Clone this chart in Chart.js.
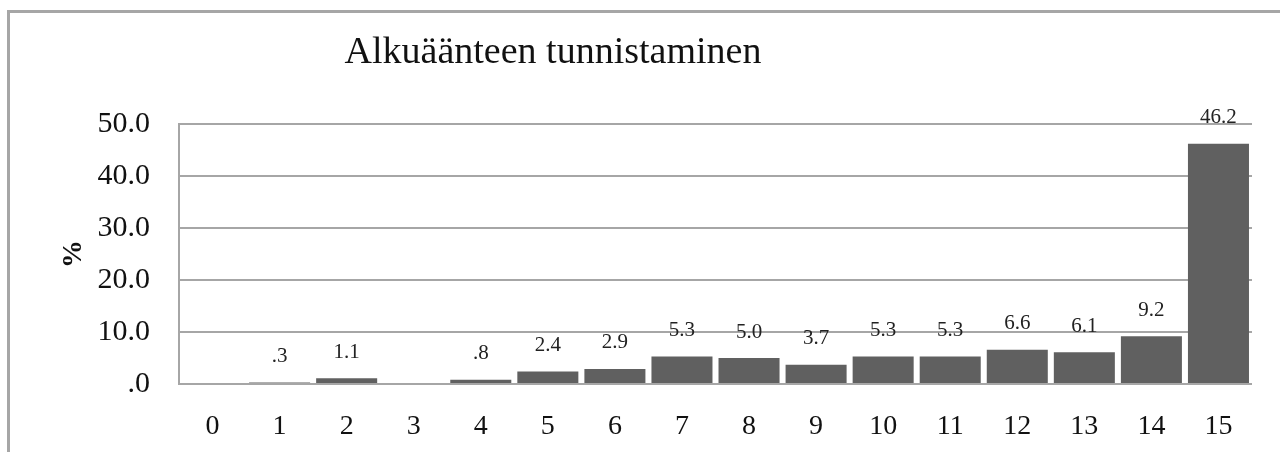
<!DOCTYPE html>
<html>
<head>
<meta charset="utf-8">
<script src="https://cdn.jsdelivr.net/npm/chart.js@4"></script>
<style>
  html, body { margin: 0; padding: 0; background: #fff; }
  #wrap { position: relative; width: 1280px; height: 452px; overflow: hidden; }
  #frame {
    position: absolute; left: 7px; top: 10px; width: 1300px; height: 500px;
    border-top: 3px solid #a6a6a6; border-left: 3px solid #a6a6a6;
  }
  canvas { position: absolute; left: 0; top: 0; }
</style>
</head>
<body>
<div id="wrap">
  <div id="frame"></div>
  <canvas id="barChart" width="1280" height="452"></canvas>
</div>
<script>
const categories = ['0', '1', '2', '3', '4', '5', '6', '7', '8', '9', '10', '11', '12', '13', '14', '15'];
const percents = [0, 0.3, 1.1, 0, 0.8, 2.4, 2.9, 5.3, 5.0, 3.7, 5.3, 5.3, 6.6, 6.1, 9.2, 46.2];
const yTicks = [0, 10, 20, 30, 40, 50];
const chartTitle = 'Alkuäänteen tunnistaminen';
const axisTitle = '%';

// ".3" instead of "0.3", like the original
const fmt = (v) => Number(v).toFixed(1).replace(/^0\./, '.');

const serif = '"Liberation Serif", "DejaVu Serif", serif';

const valueLabels = {
  id: 'valueLabels',
  afterDatasetsDraw(chart) {
    const { ctx } = chart;
    const meta = chart.getDatasetMeta(0);
    ctx.save();
    ctx.font = `21px ${serif}`;
    ctx.fillStyle = '#222';
    ctx.textAlign = 'center';
    ctx.textBaseline = 'middle';
    meta.data.forEach((bar, i) => {
      const v = percents[i];
      if (!v) return;
      ctx.fillText(fmt(v), bar.x, bar.y - 26);
    });
    ctx.restore();
  },
};

const titleText = {
  id: 'titleText',
  afterDraw(chart) {
    const { ctx } = chart;
    ctx.save();
    ctx.font = `38px ${serif}`;
    ctx.fillStyle = '#111';
    ctx.textAlign = 'center';
    ctx.textBaseline = 'middle';
    ctx.fillText(chartTitle, 553, 53);
    ctx.restore();
  },
};

const ctxB = document.getElementById('barChart').getContext('2d');
const myBarChart = new Chart(ctxB, {
  type: 'bar',
  data: {
    labels: categories,
    datasets: [{
      data: percents,
      backgroundColor: '#606060',
      borderWidth: 0,
      barPercentage: 0.91,
      categoryPercentage: 1,
    }],
  },
  options: {
    responsive: false,
    animation: false,
    layout: {
      padding: { top: 124, right: 28, left: 0, bottom: 0 },
    },
    plugins: {
      legend: { display: false },
      title: { display: false },
      tooltip: { enabled: false },
    },
    scales: {
      x: {
        grid: { display: false },
        border: { display: false },
        ticks: {
          color: '#111',
          font: { family: serif, size: 28 },
          padding: 18,
        },
        afterFit(scale) { scale.height = 68; },
      },
      y: {
        min: 0,
        max: 50,
        afterBuildTicks(scale) { scale.ticks = yTicks.map((v) => ({ value: v })); },
        grid: { color: '#a6a6a6', lineWidth: 2, drawTicks: false },
        border: { display: true, color: '#a6a6a6', width: 2 },
        ticks: {
          color: '#111',
          font: { family: serif, size: 30 },
          padding: 29,
          callback: (v) => fmt(v),
        },
        title: {
          display: true,
          text: axisTitle,
          color: '#111',
          font: { family: serif, size: 28, weight: 'bold' },
          padding: { top: 57, bottom: 0 },
        },
        afterFit(scale) { scale.width = 179; },
      },
    },
  },
  plugins: [valueLabels, titleText],
});
</script>
</body>
</html>
